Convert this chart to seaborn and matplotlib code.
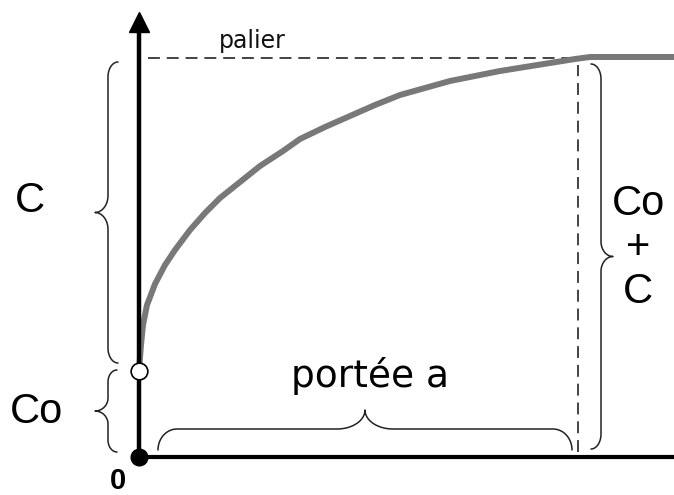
import numpy as np
import pandas as pd
import matplotlib
matplotlib.use("Agg")
import matplotlib.pyplot as plt
import seaborn as sns

# ---- data (variogram) ----
lag = [0, 2, 4, 8, 16, 26, 36, 51, 66, 81, 101, 121, 144, 161, 186, 211, 236,
       261, 286, 311, 336, 361, 386, 411, 436, 451, 535]
gamma = [86, 112, 132, 152, 173, 192, 207, 227, 244, 259, 275, 291, 306, 318, 330,
         341, 352, 362, 369, 376, 381, 386, 390, 394, 398, 400, 400]
nugget = 86        # Co
sill = 400         # Co + C
range_a = 439      # portée a

label_c = "C"
label_co = "Co"
label_total = "Co\n+\nC"
label_range = "portée a"
label_sill = "palier"
label_origin = "0"

sns.set_theme(style="white")
plt.rcParams["font.family"] = ["Liberation Sans", "DejaVu Sans"]

fig = plt.figure(figsize=(6.74, 4.95), dpi=100)
ax = fig.add_axes([0, 0, 1, 1])
ax.set_xlim(-139, 535)
ax.set_ylim(-38, 457)
ax.axis("off")

ink = "#111111"
dash = (0, (7.8, 4.5))

# palier dashed line and range dashed line
ax.plot([9, range_a + 2], [sill - 1, sill - 1], color=ink, lw=1.1, linestyle=dash, zorder=1)
ax.plot([range_a, range_a], [5, sill - 8], color=ink, lw=1.1, linestyle=dash, zorder=1)

# variogram curve
df = pd.DataFrame({"h": lag, "g": gamma})
sns.lineplot(data=df, x="h", y="g", ax=ax, color="#787878", linewidth=4.3,
             estimator=None, sort=False, zorder=3)

# axes
ax.plot([0, 535], [0, 0], color="black", lw=3.0, solid_capstyle="butt", zorder=4)
ax.plot([0, 0], [0, 430], color="black", lw=3.2, solid_capstyle="butt", zorder=4)
ax.plot([0], [435], marker="^", ms=14.5, color="black", zorder=5)

# points
ax.plot([0], [0], marker="o", ms=12, color="black", zorder=6)
ax.plot([0], [nugget], marker="o", ms=12, markerfacecolor="white",
        markeredgecolor="black", markeredgewidth=1.2, zorder=6)


def brace(p0, p1, normal, end_h, end_w, tip_h, tip_w, n=20):
    p0 = np.asarray(p0, float)
    p1 = np.asarray(p1, float)
    L = np.linalg.norm(p1 - p0)
    t = (p1 - p0) / L
    nv = np.asarray(normal, float)
    m = L / 2
    a1 = np.linspace(np.pi, np.pi / 2, n)
    u1 = end_h + end_h * np.cos(a1); v1 = -end_w + end_w * np.sin(a1)
    a2 = np.linspace(-np.pi / 2, 0, n)
    u2 = (m - tip_h) + tip_h * np.cos(a2); v2 = tip_w + tip_w * np.sin(a2)
    a3 = np.linspace(np.pi, 1.5 * np.pi, n)
    u3 = (m + tip_h) + tip_h * np.cos(a3); v3 = tip_w + tip_w * np.sin(a3)
    a4 = np.linspace(np.pi / 2, 0, n)
    u4 = (L - end_h) + end_h * np.cos(a4); v4 = -end_w + end_w * np.sin(a4)
    u = np.concatenate([u1, u2, u3, u4])
    v = np.concatenate([v1, v2, v3, v4])
    pts = p0[None, :] + u[:, None] * t[None, :] + v[:, None] * nv[None, :]
    ax.plot(pts[:, 0], pts[:, 1], color="#222222", lw=1.1, zorder=2)


brace((-31, nugget + 8), (-31, sill - 5), (-1, 0), 15, 10, 17, 13)
brace((-31, 5), (-31, nugget + 1), (-1, 0), 12, 9, 13, 13)
brace((19, 28), (range_a - 6, 28), (0, 1), 19, 21, 28, 19)
brace((462, 8), (462, sill - 7), (1, 0), 15, 10, 15, 12)

# texts
ax.text(-109, 256, label_c, fontsize=30, ha="center", va="center", color="black")
ax.text(-102, 45, label_co, fontsize=30, ha="center", va="center", color="black")
ax.text(-21, -24, label_origin, fontsize=21, fontweight="bold", ha="center", va="center", color="black")
ax.text(499, 209, label_total, fontsize=30, ha="center", va="center",
        multialignment="center", linespacing=1.12, color="black")
ax.text(231, 70, label_range, fontsize=27, ha="center", va="baseline",
        family=["DejaVu Sans"], color="black")
ax.text(113, 409, label_sill, fontsize=17, ha="center", va="baseline",
        family=["DejaVu Sans"], color="#111111")

fig.savefig("out.png", dpi=100)
